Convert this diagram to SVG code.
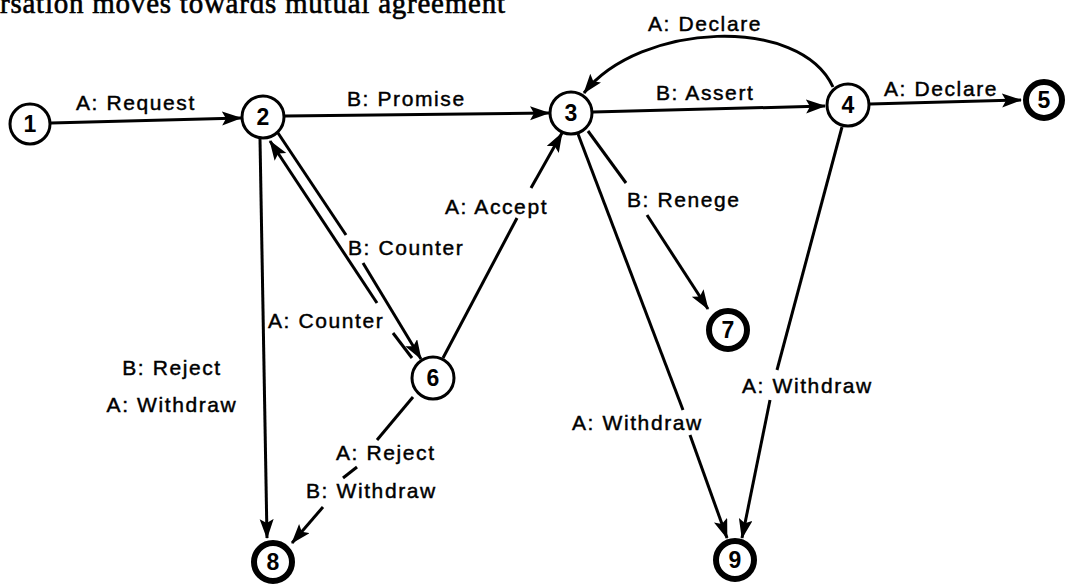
<svg xmlns="http://www.w3.org/2000/svg" width="1065" height="586" viewBox="0 0 1065 586">
  <style>
    .lbl { font-family: "Liberation Sans", Arial, sans-serif; font-size: 21px; letter-spacing: 1.6px; fill: #000; stroke: #000; stroke-width: 0.45px; }
    .num { font-family: "Liberation Sans", Arial, sans-serif; font-size: 23px; font-weight: bold; fill: #000; text-anchor: middle; }
    .state { fill: #fff; stroke: #000; stroke-width: 3; }
    .final { fill: #fff; stroke: #000; stroke-width: 6; }
    .edge { fill: none; stroke: #000; stroke-width: 3; }
    .arrow { marker-end: url(#head); }
    .title { font-family: "Liberation Serif", "Times New Roman", serif; font-size: 29px; fill: #000; stroke: #000; stroke-width: 0.6px; }
  </style>
  <defs>
    <marker id="head" markerUnits="userSpaceOnUse" markerWidth="22" markerHeight="15" refX="19" refY="7" orient="auto">
      <path d="M0,0 L20,7 L0,14 L4,7 z" fill="#000"/>
    </marker>
  </defs>
  <rect width="1065" height="586" fill="#fff"/>

  <!-- caption line, running off the top edge -->
  <text class="title" x="0" y="13" textLength="505" lengthAdjust="spacing">rsation moves towards mutual agreement</text>

  <!-- connectors -->
  <g id="connectors">
    <!-- 1 -> 2 -->
    <path class="edge arrow" d="M51,123 L241,118"/>
    <text class="lbl" x="76" y="110">A: Request</text>
    <!-- 2 -> 3 -->
    <path class="edge arrow" d="M285,116 L549,113"/>
    <text class="lbl" x="347" y="106">B: Promise</text>
    <!-- 3 -> 4 -->
    <path class="edge arrow" d="M593,112 L825,106"/>
    <text class="lbl" x="656" y="100">B: Assert</text>
    <!-- 4 -> 5 -->
    <path class="edge arrow" d="M870,104 L1021,100"/>
    <text class="lbl" x="884" y="96">A: Declare</text>
    <!-- 4 -> 3 arc -->
    <path class="edge arrow" d="M833,87 C800,15 640,22 584,93"/>
    <text class="lbl" x="648" y="31">A: Declare</text>
    <!-- 2 -> 8 -->
    <path class="edge arrow" d="M260,139 L267,538"/>
    <text class="lbl" x="172" y="375" text-anchor="middle">B: Reject</text>
    <text class="lbl" x="172" y="412" text-anchor="middle">A: Withdraw</text>
    <!-- 2 -> 6 -->
    <path class="edge" d="M278,133 L346,235"/>
    <path class="edge arrow" d="M363,263 L421,359"/>
    <text class="lbl" x="348" y="255">B: Counter</text>
    <!-- 6 -> 2 -->
    <path class="edge" d="M412,358 L393,333"/>
    <path class="edge arrow" d="M377,303 L270,141"/>
    <text class="lbl" x="268" y="328">A: Counter</text>
    <!-- 6 -> 3 -->
    <path class="edge" d="M443,358 L517,218"/>
    <path class="edge arrow" d="M531,188 L562,133"/>
    <text class="lbl" x="445" y="214">A: Accept</text>
    <!-- 6 -> 8 -->
    <path class="edge" d="M413,397 L377,440"/>
    <path class="edge" d="M357,467 L343,478"/>
    <path class="edge arrow" d="M323,507 L292,543"/>
    <text class="lbl" x="336" y="460">A: Reject</text>
    <text class="lbl" x="306" y="498">B: Withdraw</text>
    <!-- 3 -> 7 -->
    <path class="edge" d="M588,131 L626,183"/>
    <path class="edge arrow" d="M647,215 L708,309"/>
    <text class="lbl" x="627" y="207">B: Renege</text>
    <!-- 3 -> 9 -->
    <path class="edge" d="M578,134 L683,410"/>
    <path class="edge arrow" d="M690,435 L727,538"/>
    <text class="lbl" x="572" y="430">A: Withdraw</text>
    <!-- 4 -> 9 -->
    <path class="edge" d="M842,127 L777,370"/>
    <path class="edge arrow" d="M770,400 L742,538"/>
    <text class="lbl" x="742" y="393">A: Withdraw</text>
  </g>

  <!-- states -->
  <g id="node1"><circle class="state" cx="30" cy="124" r="20"/><text class="num" x="30" y="132">1</text></g>
  <g id="node2"><circle class="state" cx="263" cy="117" r="21"/><text class="num" x="263" y="125">2</text></g>
  <g id="node3"><circle class="state" cx="571" cy="113" r="21"/><text class="num" x="571" y="121">3</text></g>
  <g id="node4"><circle class="state" cx="848" cy="105" r="21"/><text class="num" x="848" y="113">4</text></g>
  <g id="node5"><circle class="final" cx="1044" cy="100" r="18"/><text class="num" x="1044" y="108">5</text></g>
  <g id="node6"><circle class="state" cx="433" cy="378" r="21"/><text class="num" x="433" y="386">6</text></g>
  <g id="node7"><circle class="final" cx="728" cy="330" r="19"/><text class="num" x="728" y="338">7</text></g>
  <g id="node8"><circle class="final" cx="273" cy="562" r="19"/><text class="num" x="273" y="570">8</text></g>
  <g id="node9"><circle class="final" cx="735" cy="560" r="19"/><text class="num" x="735" y="568">9</text></g>
</svg>
